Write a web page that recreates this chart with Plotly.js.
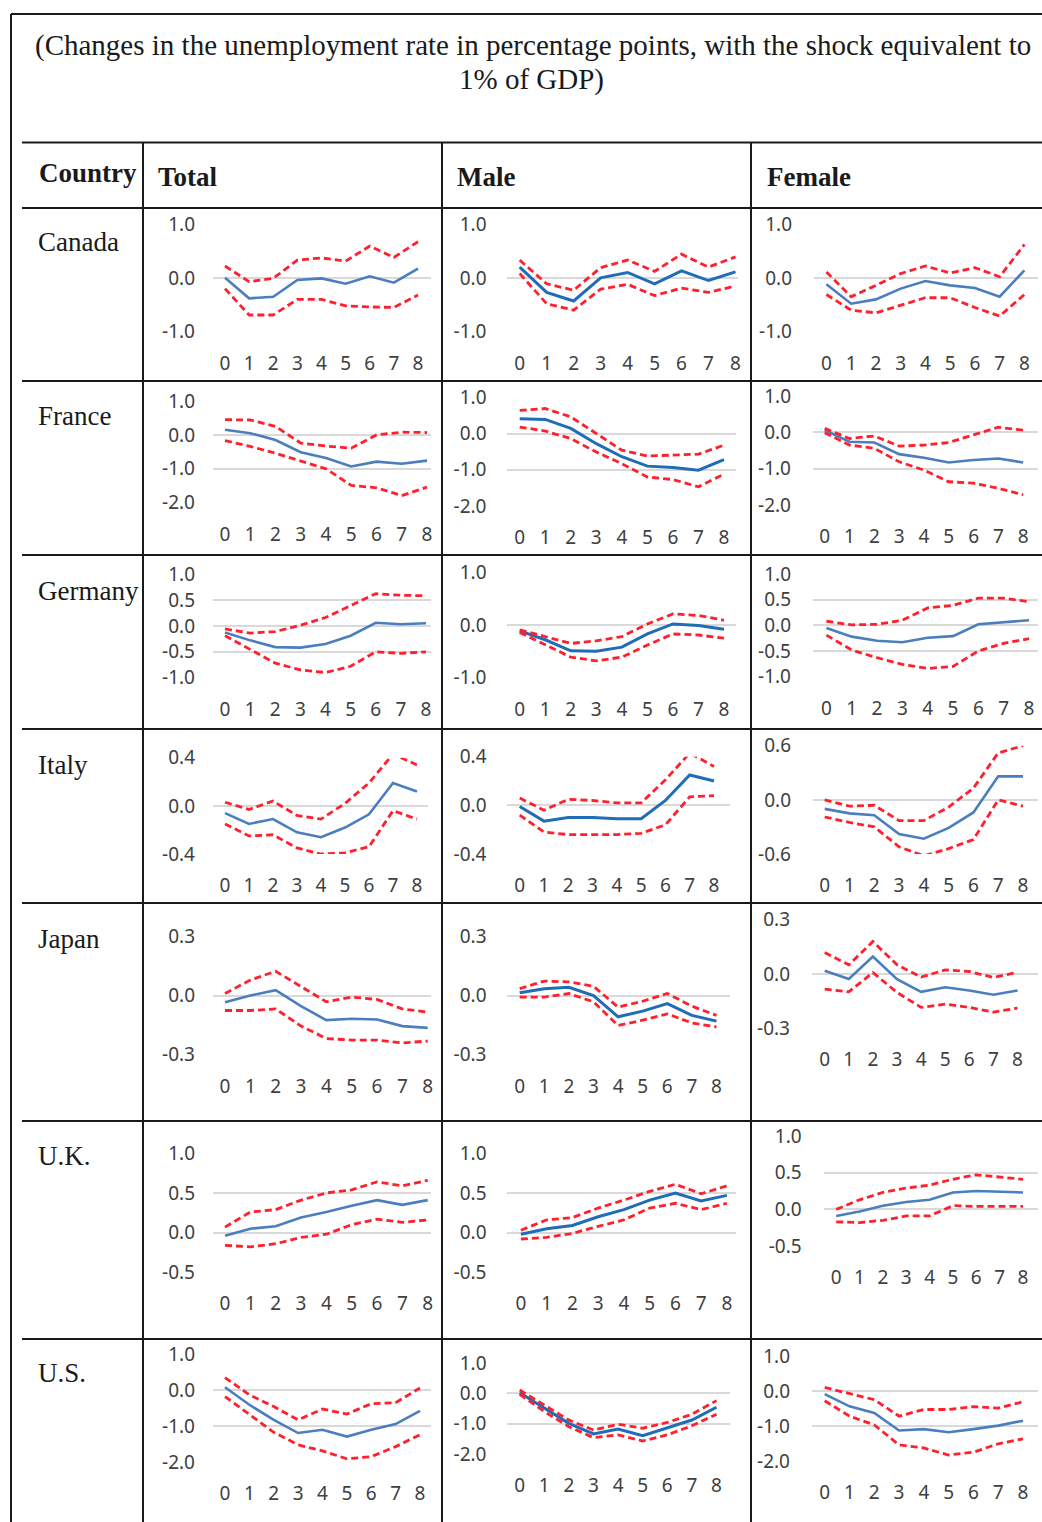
<!DOCTYPE html>
<html>
<head>
<meta charset="utf-8">
<script src="https://cdn.plot.ly/plotly-3.0.1.min.js"></script>
<style>html,body{margin:0;padding:0;background:#fff;}#chart{width:1042px;height:1522px;}</style>
</head>
<body>
<div id="chart"></div>
<script>
// ---------------- DATA ----------------
const titleLines = ["(Changes in the unemployment rate in percentage points, with the shock equivalent to", "1% of GDP)"];
const countries = ["Canada", "France", "Germany", "Italy", "Japan", "U.K.", "U.S."];
const groups = ["Total", "Male", "Female"];
const horizons = [0, 1, 2, 3, 4, 5, 6, 7, 8];
const horizonLabels = ["0", "1", "2", "3", "4", "5", "6", "7", "8"];

// each array: [Total, Male, Female]
const canadaCentral = [[0.0,-0.38,-0.35,-0.04,-0.01,-0.11,0.03,-0.09,0.17],[0.20,-0.27,-0.43,0.0,0.10,-0.11,0.13,-0.05,0.11],[-0.12,-0.48,-0.40,-0.20,-0.06,-0.14,-0.19,-0.35,0.14]];
const canadaUpper   = [[0.22,-0.07,-0.01,0.33,0.37,0.31,0.59,0.38,0.67],[0.33,-0.11,-0.23,0.19,0.33,0.12,0.44,0.20,0.39],[0.11,-0.35,-0.14,0.08,0.22,0.09,0.19,0.02,0.62]];
const canadaLower   = [[-0.20,-0.69,-0.69,-0.40,-0.40,-0.52,-0.54,-0.55,-0.32],[0.08,-0.48,-0.60,-0.21,-0.12,-0.33,-0.19,-0.27,-0.15],[-0.31,-0.60,-0.65,-0.51,-0.37,-0.37,-0.55,-0.71,-0.31]];

const franceCentral = [[0.15,0.05,-0.15,-0.51,-0.68,-0.93,-0.79,-0.85,-0.76],[0.41,0.39,0.14,-0.28,-0.64,-0.90,-0.94,-1.01,-0.72],[0.06,-0.26,-0.28,-0.60,-0.70,-0.83,-0.76,-0.72,-0.83]];
const franceUpper   = [[0.45,0.44,0.25,-0.24,-0.33,-0.39,0.0,0.08,0.07],[0.64,0.69,0.46,0.0,-0.46,-0.62,-0.60,-0.57,-0.32],[0.11,-0.17,-0.10,-0.38,-0.35,-0.28,-0.07,0.14,0.06]];
const franceLower   = [[-0.17,-0.34,-0.54,-0.78,-1.0,-1.49,-1.56,-1.79,-1.54],[0.18,0.07,-0.14,-0.51,-0.83,-1.20,-1.27,-1.47,-1.12],[-0.01,-0.35,-0.44,-0.81,-1.04,-1.36,-1.40,-1.54,-1.72]];

const germanyCentral = [[-0.13,-0.28,-0.41,-0.42,-0.35,-0.19,0.06,0.03,0.05],[-0.11,-0.28,-0.49,-0.50,-0.42,-0.17,0.02,-0.01,-0.08],[-0.05,-0.22,-0.30,-0.33,-0.24,-0.21,0.02,0.06,0.10]];
const germanyUpper   = [[-0.06,-0.14,-0.11,0.01,0.16,0.39,0.62,0.59,0.58],[-0.09,-0.22,-0.35,-0.30,-0.22,0.02,0.21,0.18,0.09],[0.08,0.01,0.02,0.10,0.34,0.39,0.53,0.53,0.46]];
const germanyLower   = [[-0.19,-0.45,-0.72,-0.85,-0.90,-0.78,-0.50,-0.53,-0.50],[-0.14,-0.38,-0.61,-0.68,-0.61,-0.38,-0.17,-0.19,-0.25],[-0.19,-0.48,-0.63,-0.76,-0.84,-0.80,-0.50,-0.35,-0.26]];

const italyCentral = [[-0.06,-0.15,-0.11,-0.22,-0.26,-0.18,-0.07,0.19,0.12],[-0.01,-0.13,-0.10,-0.10,-0.11,-0.11,0.04,0.25,0.20],[-0.10,-0.15,-0.17,-0.38,-0.43,-0.31,-0.14,0.26,0.26]];
const italyUpper   = [[0.03,-0.03,0.04,-0.08,-0.11,0.02,0.19,0.43,0.34],[0.06,-0.04,0.05,0.04,0.02,0.02,0.21,0.43,0.32],[0.0,-0.07,-0.06,-0.23,-0.23,-0.08,0.13,0.52,0.60]];
const italyLower   = [[-0.15,-0.25,-0.24,-0.35,-0.40,-0.39,-0.34,-0.04,-0.11],[-0.08,-0.22,-0.24,-0.24,-0.24,-0.23,-0.16,0.07,0.08],[-0.19,-0.25,-0.30,-0.52,-0.62,-0.54,-0.44,0.0,-0.07]];

const japanCentral = [[-0.034,0.0,0.027,-0.054,-0.125,-0.118,-0.122,-0.155,-0.164],[0.014,0.034,0.042,0.0,-0.108,-0.079,-0.041,-0.101,-0.13],[0.017,-0.028,0.096,-0.03,-0.10,-0.074,-0.092,-0.116,-0.092]];
const japanUpper   = [[0.01,0.078,0.123,0.044,-0.032,-0.008,-0.02,-0.068,-0.084],[0.035,0.073,0.069,0.047,-0.059,-0.029,0.01,-0.054,-0.101],[0.118,0.05,0.179,0.05,-0.018,0.022,0.013,-0.02,0.009]];
const japanLower   = [[-0.076,-0.076,-0.068,-0.155,-0.218,-0.226,-0.226,-0.24,-0.231],[-0.008,-0.008,0.01,-0.032,-0.152,-0.125,-0.093,-0.139,-0.159],[-0.085,-0.10,0.007,-0.103,-0.186,-0.168,-0.186,-0.212,-0.19]];

const ukCentral = [[-0.04,0.05,0.08,0.19,0.26,0.34,0.41,0.35,0.41],[-0.02,0.05,0.09,0.20,0.29,0.41,0.50,0.40,0.47],[-0.09,-0.03,0.05,0.10,0.13,0.23,0.25,0.24,0.23]];
const ukUpper   = [[0.07,0.26,0.29,0.41,0.50,0.54,0.64,0.59,0.66],[0.03,0.16,0.19,0.31,0.41,0.52,0.61,0.49,0.59],[0.0,0.13,0.23,0.29,0.33,0.41,0.47,0.44,0.41]];
const ukLower   = [[-0.16,-0.18,-0.14,-0.06,-0.02,0.10,0.17,0.13,0.16],[-0.08,-0.06,-0.01,0.08,0.16,0.31,0.37,0.29,0.37],[-0.17,-0.18,-0.15,-0.09,-0.09,0.05,0.04,0.04,0.04]];

const usCentral = [[0.09,-0.40,-0.82,-1.19,-1.10,-1.29,-1.10,-0.94,-0.57],[0.02,-0.49,-0.99,-1.34,-1.18,-1.40,-1.15,-0.88,-0.46],[-0.08,-0.43,-0.62,-1.12,-1.08,-1.17,-1.08,-0.98,-0.84]];
const usUpper   = [[0.36,-0.12,-0.45,-0.82,-0.52,-0.66,-0.37,-0.34,0.07],[0.11,-0.38,-0.88,-1.21,-1.02,-1.15,-0.96,-0.69,-0.24],[0.11,-0.06,-0.24,-0.71,-0.52,-0.52,-0.44,-0.48,-0.30]];
const usLower   = [[-0.17,-0.68,-1.17,-1.52,-1.69,-1.91,-1.85,-1.57,-1.24],[-0.03,-0.60,-1.10,-1.46,-1.37,-1.57,-1.37,-1.07,-0.69],[-0.27,-0.71,-0.96,-1.53,-1.62,-1.82,-1.74,-1.50,-1.36]];

// y-axis scale per panel: [max, min, step] (Total, Male, Female)
const yScales = [
  [[1,-1,1],[1,-1,1],[1,-1,1]],
  [[1,-2,1],[1,-2,1],[1,-2,1]],
  [[1,-1,0.5],[1,-1,1],[1,-1,0.5]],
  [[0.4,-0.4,0.4],[0.4,-0.4,0.4],[0.6,-0.6,0.6]],
  [[0.3,-0.3,0.3],[0.3,-0.3,0.3],[0.3,-0.3,0.3]],
  [[1,-0.5,0.5],[1,-0.5,0.5],[1,-0.5,0.5]],
  [[1,-2,1],[1,-2,1],[1,-2,1]]
];

const seriesCentral = [canadaCentral, franceCentral, germanyCentral, italyCentral, japanCentral, ukCentral, usCentral];
const seriesUpper = [canadaUpper, franceUpper, germanyUpper, italyUpper, japanUpper, ukUpper, usUpper];
const seriesLower = [canadaLower, franceLower, germanyLower, italyLower, japanLower, ukLower, usLower];

// ---------------- LAYOUT GEOMETRY (pixels) ----------------
const W = 1042, H = 1522;
// per panel: [gridLeft, gridRight, point0X, point8X, topGridY, bottomGridY]
const panelGeo = [
  [[213,431,225,418,224,331.7],[506.5,738,519.7,735.5,224,331.7],[814,1038,826.4,1024.4,224,331.7]],
  [[213,431,225,427,401,502.7],[506.5,736,519.7,724,397.3,506],[813,1038,824.7,1023.2,396,505]],
  [[213,431,225,426,574,677.7],[506.5,736,519.7,724,572.3,677.7],[813,1038,826.4,1029,574,676.7]],
  [[213,428,225,417,757.7,854],[506.5,730,519.7,714,756.7,854],[813,1038,824.7,1023,745.7,854]],
  [[213,431,225,427.7,936.3,1054.7],[506.5,730,519.7,716.5,936.3,1054.7],[812,1038,824.7,1017.5,919.7,1028]],
  [[213,431,225,427.7,1153.3,1272.3],[506.5,736,520.9,726.9,1153.3,1272.3],[823.6,1038,836.2,1023,1136,1246]],
  [[213,431,225,420,1354.7,1462],[506.5,730,519.7,716.5,1363,1454],[812,1038,824.7,1023,1356.3,1461.3]]
];
const yLabelStandoff = [17, 19, 21];
const xLabelStandoff = 18;
const countryLabelY = [242, 416, 591, 765, 939, 1156, 1373];
const hLines = [142.5, 208, 381, 555, 729, 903, 1121, 1339];
const vLines = [143, 442, 751];

const blueTF = '#4a7ebf', blueM = '#1f6cb8', red = '#ff1f2d';
const tickFont = {family: 'Noto Sans, sans-serif', size: 19, color: '#404040'};
const serif = 'Liberation Serif, Times New Roman, serif';

const px = x => x / W;
const py = y => 1 - y / H;

const traces = [];
const layout = {
  width: W, height: H, margin: {l:0, r:0, t:0, b:0},
  paper_bgcolor: '#fff', plot_bgcolor: 'rgba(0,0,0,0)', showlegend: false,
  annotations: [], shapes: []
};

const fmt = v => { const s = (Math.round(v * 10) / 10).toFixed(1); return s === '-0.0' ? '0.0' : s; };

for (let r = 0; r < countries.length; r++) {
  for (let c = 0; c < groups.length; c++) {
    const k = r * 3 + c;
    const xa = k === 0 ? 'x' : 'x' + (k + 1);
    const ya = k === 0 ? 'y' : 'y' + (k + 1);
    const xKey = k === 0 ? 'xaxis' : 'xaxis' + (k + 1);
    const yKey = k === 0 ? 'yaxis' : 'yaxis' + (k + 1);
    const [gl, gr, p0, p8, yt, yb] = panelGeo[r][c];
    const u = (p8 - p0) / 8;
    const [ymax, ymin, ystep] = yScales[r][c];
    const tv = [], tt = [];
    const n = Math.round((ymax - ymin) / ystep);
    for (let i = 0; i <= n; i++) { const v = ymin + i * ystep; tv.push(v); tt.push(fmt(v)); }

    layout[xKey] = {
      domain: [px(gl), px(gr)], range: [(gl - p0) / u, (gr - p0) / u], anchor: ya,
      showgrid: false, zeroline: false, showline: false, ticks: '',
      tickmode: 'array', tickvals: horizons, ticktext: horizonLabels,
      tickfont: tickFont, ticklabelstandoff: xLabelStandoff, fixedrange: true
    };
    layout[yKey] = {
      domain: [py(yb), py(yt)], range: [ymin, ymax], anchor: xa,
      showgrid: true, gridcolor: '#d9d9d9', gridwidth: 2, zeroline: false, showline: false, ticks: '',
      tickmode: 'array', tickvals: tv, ticktext: tt,
      tickfont: tickFont, ticklabelstandoff: yLabelStandoff[c], fixedrange: true
    };
    const blue = c === 1 ? blueM : blueTF;
    traces.push({x: horizons, y: seriesCentral[r][c], xaxis: xa, yaxis: ya, type: 'scatter', mode: 'lines',
      line: {color: blue, width: c === 1 ? 3 : 2.6}, cliponaxis: false, hoverinfo: 'skip'});
    traces.push({x: horizons, y: seriesUpper[r][c], xaxis: xa, yaxis: ya, type: 'scatter', mode: 'lines',
      line: {color: red, width: 2.8, dash: '7px,4px'}, cliponaxis: false, hoverinfo: 'skip'});
    traces.push({x: horizons, y: seriesLower[r][c], xaxis: xa, yaxis: ya, type: 'scatter', mode: 'lines',
      line: {color: red, width: 2.8, dash: '7px,4px'}, cliponaxis: false, hoverinfo: 'skip'});
  }
}

// title
layout.annotations.push({xref:'paper', yref:'paper', x: px(533), y: py(46), xanchor:'center', yanchor:'middle', showarrow:false,
  text: titleLines[0], font:{family: serif, size: 29, color:'#1a1a1a'}});
layout.annotations.push({xref:'paper', yref:'paper', x: px(531), y: py(79), xanchor:'center', yanchor:'middle', showarrow:false,
  text: titleLines[1], font:{family: serif, size: 29, color:'#1a1a1a'}});
// headers
layout.annotations.push({xref:'paper', yref:'paper', x: px(37), y: py(173), xanchor:'left', yanchor:'middle', showarrow:false,
  text: '<b>Country</b>', font:{family: serif, size: 27, color:'#1a1a1a'}});
const headerX = [156, 455, 765];
groups.forEach((g, i) => layout.annotations.push({xref:'paper', yref:'paper', x: px(headerX[i]), y: py(177), xanchor:'left', yanchor:'middle', showarrow:false,
  text: '<b>' + g + '</b>', font:{family: serif, size: 27, color:'#1a1a1a'}}));
countries.forEach((cn, i) => layout.annotations.push({xref:'paper', yref:'paper', x: px(36), y: py(countryLabelY[i]), xanchor:'left', yanchor:'middle', showarrow:false,
  text: cn, font:{family: serif, size: 27, color:'#1a1a1a'}}));

// frame and table lines
const lineStyle = {color:'#1a1a1a', width: 2};
layout.shapes.push({type:'line', xref:'paper', yref:'paper', x0: px(11), x1: 1, y0: py(14), y1: py(14), line: lineStyle});
layout.shapes.push({type:'line', xref:'paper', yref:'paper', x0: px(11), x1: px(11), y0: py(14), y1: 0, line: lineStyle});
hLines.forEach(y => layout.shapes.push({type:'line', xref:'paper', yref:'paper', x0: px(22), x1: 1, y0: py(y), y1: py(y), line: lineStyle}));
vLines.forEach(x => layout.shapes.push({type:'line', xref:'paper', yref:'paper', x0: px(x), x1: px(x), y0: py(142.5), y1: 0, line: lineStyle}));

Plotly.newPlot('chart', traces, layout, {staticPlot: true, displayModeBar: false});
</script>
</body>
</html>
